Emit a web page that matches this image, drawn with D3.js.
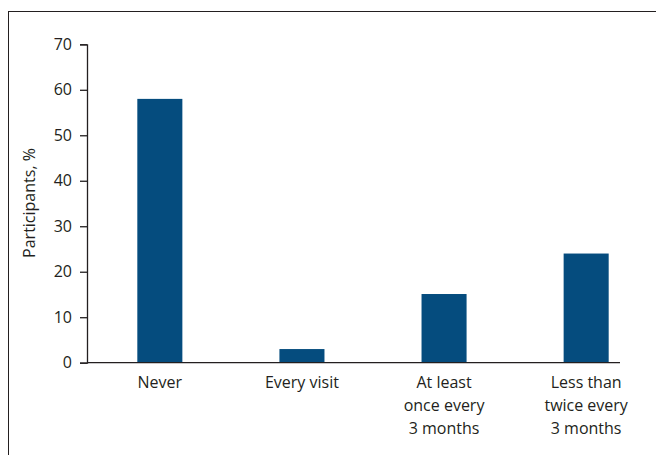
<!DOCTYPE html>
<meta charset="utf-8" />
<style>
  body { margin: 0; background: #fff; }
  text { font-family: "Open Sans", sans-serif; fill: #231f20; }
</style>
<body>
  <script src="https://d3js.org/d3.v7.min.js"></script>
  <script>
    // chart values
    var categories = ["Never", "Every visit", "At least once every 3 months", "Less than twice every 3 months"];
    var labelLines = [["Never"], ["Every visit"], ["At least", "once every", "3 months"], ["Less than", "twice every", "3 months"]];
    var values = [58, 3, 15.1, 24];
    var yTicks = [0, 10, 20, 30, 40, 50, 60, 70];

    var W = 656, H = 455;
    var svg = d3.select("body").append("svg").attr("width", W).attr("height", H);

    // outer frame
    svg.append("rect")
      .attr("x", 8.5).attr("y", 11.5)
      .attr("width", W).attr("height", H)
      .attr("fill", "none").attr("stroke", "#231f20").attr("stroke-width", 1);

    var x = d3.scaleBand().domain(categories).range([89, 657]).paddingInner(0.683).paddingOuter(0.34);
    var y = d3.scaleLinear().domain([0, 70]).range([362.7, 44.3]);

    // bars
    svg.selectAll(".bar").data(values).enter().append("rect")
      .attr("x", function (d, i) { return x(categories[i]); })
      .attr("width", x.bandwidth())
      .attr("y", function (d) { return y(d); })
      .attr("height", function (d) { return y(0) - y(d); })
      .attr("fill", "#054c7e");

    // y axis
    var yAxis = svg.append("g").attr("transform", "translate(87,0)")
      .call(d3.axisLeft(y).tickValues(yTicks).tickSize(7).tickSizeOuter(7).tickPadding(8));
    yAxis.selectAll("path, line").attr("stroke", "#231f20").attr("stroke-width", 1.3);
    yAxis.selectAll("text").style("font-size", "16px").attr("fill", "#231f20");

    // x baseline
    svg.append("line")
      .attr("x1", 87).attr("x2", 620)
      .attr("y1", y(0)).attr("y2", y(0))
      .attr("stroke", "#231f20").attr("stroke-width", 1.3);

    // category labels
    categories.forEach(function (c, i) {
      var t = svg.append("text")
        .attr("text-anchor", "middle")
        .attr("x", x(c) + x.bandwidth() / 2)
        .attr("y", 388)
        .style("font-size", "16px");
      labelLines[i].forEach(function (ln, j) {
        t.append("tspan").attr("x", x(c) + x.bandwidth() / 2).attr("dy", j === 0 ? 0 : 23).text(ln);
      });
    });

    // y axis title
    svg.append("text")
      .attr("transform", "translate(35,203) rotate(-90)")
      .attr("text-anchor", "middle")
      .style("font-size", "16px")
      .text("Participants, %");
  </script>
</body>
